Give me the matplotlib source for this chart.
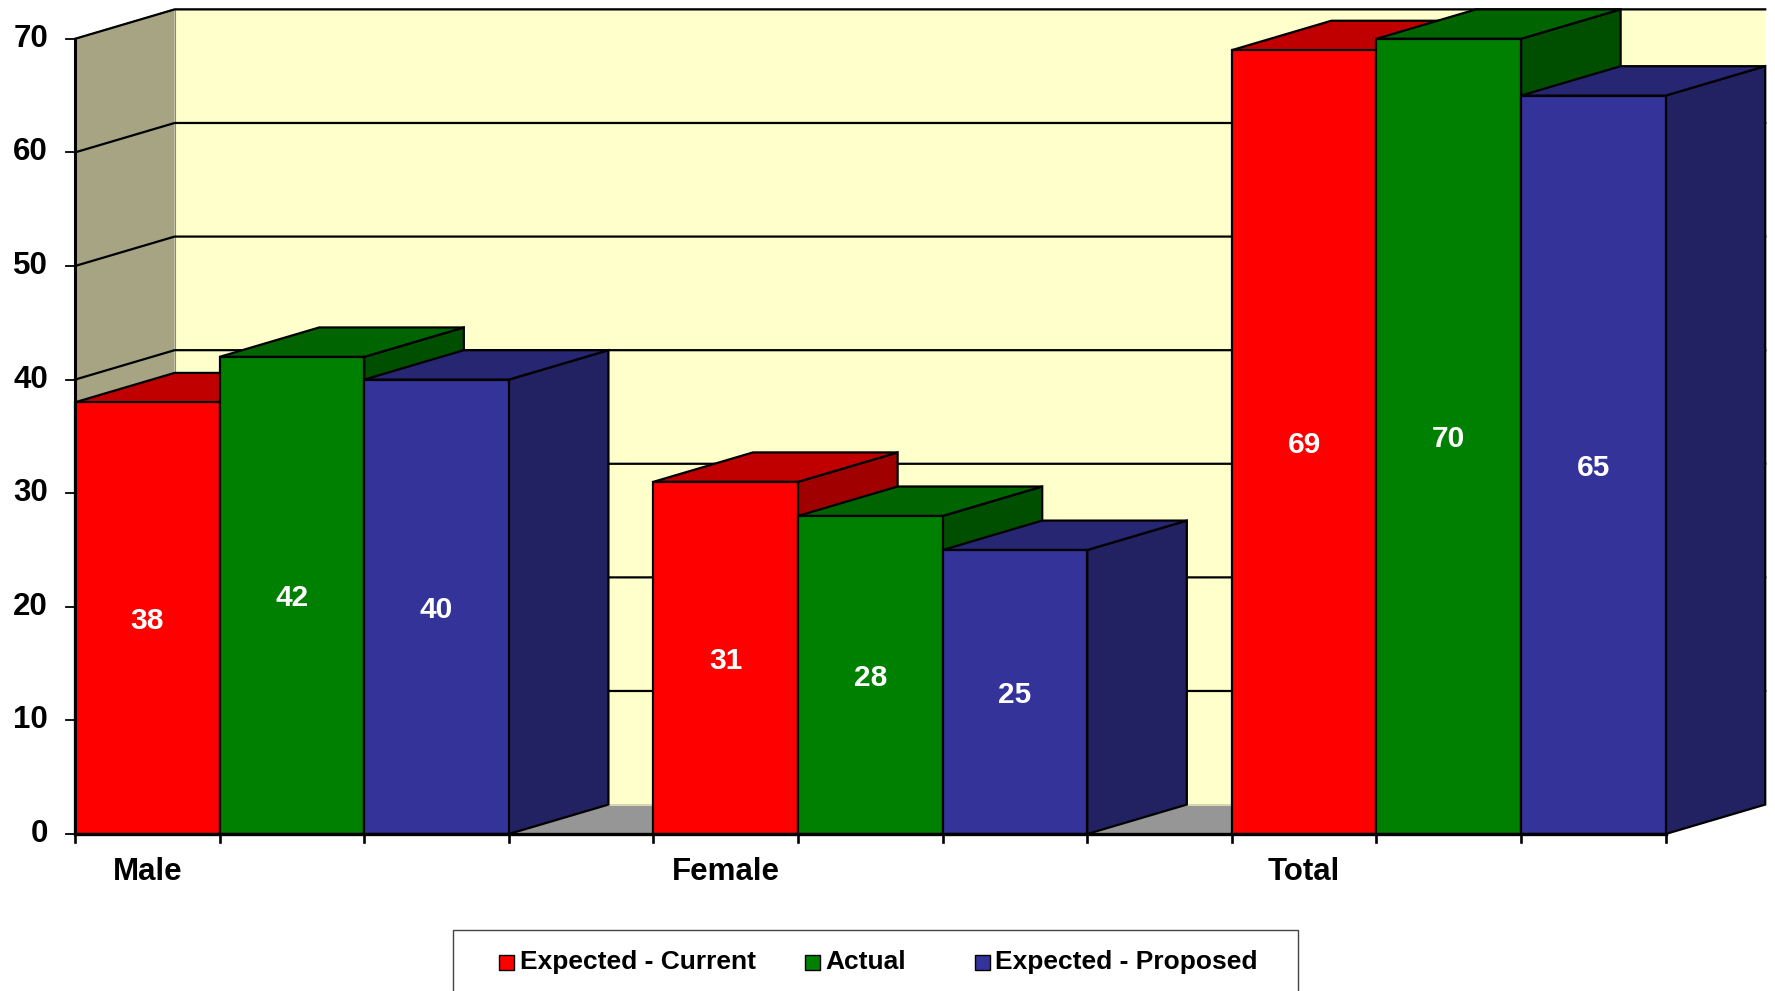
import matplotlib
matplotlib.use("Agg")
import matplotlib.pyplot as plt
from matplotlib.patches import Polygon, Rectangle

# ---- data ----
categories = ["Male", "Female", "Total"]
series_names = ["Expected - Current", "Actual", "Expected - Proposed"]
expected_current = [38, 31, 69]
actual = [42, 28, 70]
expected_proposed = [40, 25, 65]
y_ticks = [0, 10, 20, 30, 40, 50, 60, 70]

series_values = [expected_current, actual, expected_proposed]

# ---- styling ----
front_colors = ["#FF0000", "#008000", "#333399"]
top_colors = ["#C00000", "#006400", "#262673"]
side_colors = ["#A00000", "#004E00", "#222262"]
wall_color = "#FFFFCC"
side_wall_color = "#A6A482"
floor_color = "#969696"
FONT = "Liberation Sans"

W, H, DPI = 1775, 991, 100
fig = plt.figure(figsize=(W / DPI, H / DPI), dpi=DPI)
ax = fig.add_axes([0, 0, 1, 1])

# one slot = one bar width; values map linearly to height
px_x0, px_slot = 75, 144.6
px_y0, px_val = 157, 11.36
ax.set_xlim(-px_x0 / px_slot, (W - px_x0) / px_slot)
ax.set_ylim(-px_y0 / px_val, (H - px_y0) / px_val)
ax.axis("off")

DX, DY = 0.689, 2.59          # oblique depth offset (slots, value units)
group_slots = len(series_values) + 1
n_slots = group_slots * len(categories) - 1
ymax = y_ticks[-1]
LW = 1.6

# back wall, side wall, floor
ax.add_patch(Polygon([(DX, DY), (n_slots + DX, DY), (n_slots + DX, ymax + DY), (DX, ymax + DY)],
                     closed=True, fc=wall_color, ec="none", zorder=1))
ax.add_patch(Polygon([(0, 0), (DX, DY), (DX, ymax + DY), (0, ymax)],
                     closed=True, fc=side_wall_color, ec="none", zorder=1))
ax.add_patch(Polygon([(0, 0), (n_slots, 0), (n_slots + DX, DY), (DX, DY)],
                     closed=True, fc=floor_color, ec="none", zorder=1))
ax.plot([0, DX, n_slots + DX], [ymax, ymax + DY, ymax + DY], color="#555555", lw=1.0, zorder=2)
ax.plot([DX, DX], [DY, ymax + DY], color="#8C8A70", lw=0.8, zorder=2)

# gridlines across side wall and back wall
for t in y_ticks[1:]:
    ax.plot([0, DX, n_slots + DX], [t, t + DY, t + DY], color="black", lw=LW, zorder=2)
ax.plot([DX, n_slots + DX], [DY, DY], color="#D8D8B0", lw=1.5, zorder=2)

# 3-D bars, drawn left to right so later bars cover earlier side faces
z = 3
for g, cat in enumerate(categories):
    for s, vals in enumerate(series_values):
        v = vals[g]
        x0 = g * group_slots + s
        ax.add_patch(Polygon([(x0 + 1, 0), (x0 + 1 + DX, DY), (x0 + 1 + DX, v + DY), (x0 + 1, v)],
                             closed=True, fc=side_colors[s], ec="black", lw=LW, zorder=z))
        ax.add_patch(Polygon([(x0, v), (x0 + 1, v), (x0 + 1 + DX, v + DY), (x0 + DX, v + DY)],
                             closed=True, fc=top_colors[s], ec="black", lw=LW, zorder=z))
        ax.add_patch(Rectangle((x0, 0), 1, v, fc=front_colors[s], ec="black", lw=LW, zorder=z + 0.5))
        ax.text(x0 + 0.5, v / 2 - 0.25, f"{v}", color="white", fontsize=21.5, fontweight="bold",
                family=FONT, ha="center", va="center", zorder=z + 0.6)
        z += 1

# axes lines and ticks
ax.plot([0, 0], [0, ymax], color="black", lw=2.2, zorder=50)
ax.plot([0, n_slots], [0, 0], color="black", lw=2.4, zorder=50)
tick_x = 9 / px_slot
tick_y = 8 / px_val
for t in y_ticks:
    ax.plot([-tick_x, 0], [t, t], color="black", lw=1.3, zorder=50)
    ax.text(-27 / px_slot, t, f"{t}", fontsize=22.5, fontweight="bold", family=FONT,
            ha="right", va="center", zorder=50)
for i in range(n_slots + 1):
    ax.plot([i, i], [0, -tick_y], color="black", lw=1.9, zorder=50)

# category labels under the first bar of each group
for g, cat in enumerate(categories):
    ax.text(g * group_slots + 0.5, -38 / px_val, cat, fontsize=22.5, fontweight="bold",
            family=FONT, ha="center", va="center", zorder=50)

# legend box along the bottom edge
def fx(px):
    return px / W

def fy(py):
    return 1 - py / H

fig.patches.append(Rectangle((fx(453), fy(1010)), fx(1298) - fx(453), fy(930) - fy(1010),
                             transform=fig.transFigure, fc="white", ec="#444444", lw=1.0, zorder=60))
legend_marker_px = [499, 805, 975]
legend_text_px = [520, 825, 995]
for s, name in enumerate(series_names):
    fig.patches.append(Rectangle((fx(legend_marker_px[s]), fy(970)), 15 / W, 15 / H,
                                 transform=fig.transFigure, fc=front_colors[s], ec="black",
                                 lw=1.0, zorder=61))
    fig.text(fx(legend_text_px[s]), fy(962), name, fontsize=19, fontweight="bold", family=FONT,
             ha="left", va="center", zorder=62)

fig.savefig("out.png", dpi=DPI)
